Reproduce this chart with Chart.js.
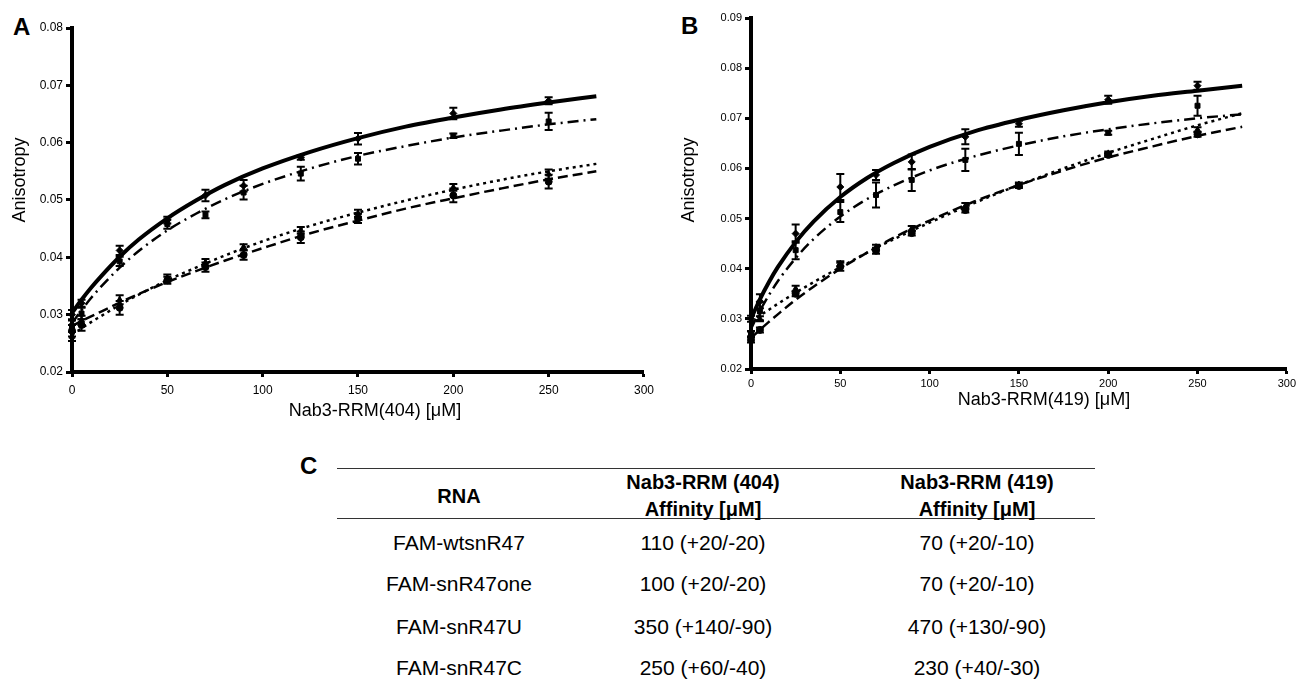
<!DOCTYPE html>
<html>
<head>
<meta charset="utf-8">
<script src="https://cdn.jsdelivr.net/npm/chart.js@4.4.0/dist/chart.umd.min.js"></script>
<style>
  body { margin: 0; background: #fff; width: 1299px; height: 680px; overflow: hidden; position: relative;
         font-family: "Liberation Sans", Arial, sans-serif; color: #000; }
  .panel { position: absolute; font-weight: bold; font-size: 24px; line-height: 24px; }
  .wrap { position: absolute; top: 0; }
  .axt { position: absolute; width: 300px; margin-left: -150px; text-align: center; font-size: 18px; line-height: 20px; white-space: nowrap; }
  .axt.rot { transform: rotate(-90deg); }
  .rule { position: absolute; left: 337px; width: 758px; height: 0; border-top: 1.5px solid #333; }
  .cell { position: absolute; width: 320px; margin-left: -160px; text-align: center; font-size: 21px; line-height: 26px; white-space: nowrap; }
  .head { font-weight: bold; font-size: 20px; line-height: 27px; }
</style>
</head>
<body>
<div class="panel" style="left:13px;top:15px;">A</div>
<div class="panel" style="left:681px;top:14px;">B</div>
<div class="panel" style="left:300px;top:454px;">C</div>
<div class="wrap" style="left:0;"><canvas id="chartA" width="660" height="430"></canvas></div>
<div class="wrap" style="left:660px;"><canvas id="chartB" width="639" height="430"></canvas></div>
<div class="axt" style="left:375px;top:400px;">Nab3-RRM(404) [&mu;M]</div>
<div class="axt" style="left:1044px;top:389px;">Nab3-RRM(419) [&mu;M]</div>
<div class="axt rot" style="left:19px;top:170px;">Anisotropy</div>
<div class="axt rot" style="left:688px;top:170px;">Anisotropy</div>
<div class="rule" style="top:468px;"></div>
<div class="rule" style="top:518px;"></div>
<div id="table"></div>
<script>
// concentrations (uM) of the measured points and x positions where the fitted curves were read
const conc = [0, 5, 25, 50, 70, 90, 120, 150, 200, 250];
const curveX = [0, 5, 10, 15, 25, 35, 50, 65, 80, 100, 125, 150, 175, 200, 225, 250, 275];

// panel A - Nab3-RRM(404)
const aWt = [0.0300, 0.0320, 0.0412, 0.0465, 0.0508, 0.0525, 0.0574, 0.0607, 0.0651, 0.0673];
const aOne = [0.0280, 0.0302, 0.0393, 0.0458, 0.0474, 0.0513, 0.0546, 0.0572, 0.0612, 0.0637];
const aC = [0.0262, 0.0290, 0.0326, 0.0364, 0.0391, 0.0418, 0.0447, 0.0477, 0.0522, 0.0545];
const aU = [0.0272, 0.0282, 0.0312, 0.0360, 0.0383, 0.0404, 0.0435, 0.0468, 0.0508, 0.0532];
const aWtErr = [0.0008, 0.0006, 0.0008, 0.0006, 0.0010, 0.0010, 0.0004, 0.0010, 0.0010, 0.0006];
const aOneErr = [0.0010, 0.0010, 0.0008, 0.0008, 0.0006, 0.0012, 0.0012, 0.0010, 0.0004, 0.0015];
const aCErr = [0.0008, 0.0008, 0.0008, 0.0006, 0.0006, 0.0005, 0.0006, 0.0006, 0.0006, 0.0008];
const aUErr = [0.0010, 0.0010, 0.0012, 0.0006, 0.0008, 0.0008, 0.0010, 0.0008, 0.0012, 0.0012];
const aWtFit = [0.0303, 0.0326, 0.0347, 0.0366, 0.0401, 0.0431, 0.0468, 0.0499, 0.0526, 0.0555, 0.0584, 0.0608, 0.0628, 0.0644, 0.0658, 0.0670, 0.0681];
const aOneFit = [0.0285, 0.0308, 0.0329, 0.0348, 0.0382, 0.0411, 0.0447, 0.0476, 0.0501, 0.0528, 0.0555, 0.0577, 0.0594, 0.0609, 0.0621, 0.0632, 0.0641];
const aCFit = [0.0265, 0.0276, 0.0287, 0.0297, 0.0317, 0.0335, 0.0360, 0.0382, 0.0403, 0.0428, 0.0455, 0.0478, 0.0499, 0.0518, 0.0535, 0.0550, 0.0563];
const aUFit = [0.0280, 0.0289, 0.0297, 0.0305, 0.0321, 0.0336, 0.0357, 0.0376, 0.0394, 0.0416, 0.0442, 0.0464, 0.0485, 0.0503, 0.0520, 0.0536, 0.0550];

// panel B - Nab3-RRM(419)
const bWt = [0.0300, 0.0335, 0.0470, 0.0563, 0.0587, 0.0613, 0.0663, 0.0689, 0.0737, 0.0765];
const bOne = [0.0270, 0.0315, 0.0437, 0.0513, 0.0547, 0.0577, 0.0617, 0.0649, 0.0671, 0.0725];
const bC = [0.0270, 0.0300, 0.0360, 0.0410, 0.0443, 0.0480, 0.0525, 0.0568, 0.0630, 0.0677];
const bU = [0.0258, 0.0278, 0.0350, 0.0404, 0.0436, 0.0471, 0.0517, 0.0565, 0.0627, 0.0668];
const bWtErr = [0.0006, 0.0014, 0.0018, 0.0026, 0.0010, 0.0015, 0.0015, 0.0006, 0.0008, 0.0008];
const bOneErr = [0.0006, 0.0018, 0.0018, 0.0020, 0.0025, 0.0022, 0.0022, 0.0022, 0.0004, 0.0020];
const bCErr = [0.0005, 0.0005, 0.0006, 0.0005, 0.0005, 0.0005, 0.0006, 0.0004, 0.0004, 0.0005];
const bUErr = [0.0005, 0.0005, 0.0005, 0.0008, 0.0006, 0.0005, 0.0005, 0.0004, 0.0004, 0.0005];
const bWtFit = [0.0300, 0.0339, 0.0373, 0.0403, 0.0453, 0.0494, 0.0543, 0.0581, 0.0611, 0.0643, 0.0674, 0.0697, 0.0716, 0.0732, 0.0745, 0.0755, 0.0765];
const bOneFit = [0.0280, 0.0316, 0.0347, 0.0375, 0.0421, 0.0459, 0.0504, 0.0539, 0.0566, 0.0596, 0.0624, 0.0646, 0.0664, 0.0678, 0.0690, 0.0700, 0.0708];
const bCFit = [0.0295, 0.0307, 0.0318, 0.0330, 0.0352, 0.0373, 0.0403, 0.0432, 0.0459, 0.0492, 0.0531, 0.0567, 0.0600, 0.0631, 0.0659, 0.0686, 0.0710];
const bUFit = [0.0262, 0.0278, 0.0294, 0.0309, 0.0338, 0.0364, 0.0400, 0.0432, 0.0462, 0.0496, 0.0534, 0.0567, 0.0596, 0.0622, 0.0644, 0.0665, 0.0683];

// panel C table
const tableHead = ['RNA', 'Nab3-RRM (404)\nAffinity [\u03bcM]', 'Nab3-RRM (419)\nAffinity [\u03bcM]'];
const rnaNames = ['FAM-wtsnR47', 'FAM-snR47one', 'FAM-snR47U', 'FAM-snR47C'];
const affinity404 = ['110 (+20/-20)', '100 (+20/-20)', '350 (+140/-90)', '250 (+60/-40)'];
const affinity419 = ['70 (+20/-10)', '70 (+20/-10)', '470 (+130/-90)', '230 (+40/-30)'];

// one style per RNA: line dash, width, marker
const styles = [
  { dash: [], width: 4, marker: 'rectRot' },
  { dash: [11, 5, 2, 5], width: 2.5, marker: 'rect' },
  { dash: [3, 4], width: 2.5, marker: 'triangle' },
  { dash: [10, 5], width: 2.5, marker: 'circle' }
];

const errorBars = {
  id: 'errorBars',
  afterDatasetsDraw(chart) {
    const ctx = chart.ctx;
    const xs = chart.scales.x, ys = chart.scales.y;
    ctx.save();
    ctx.strokeStyle = '#000';
    ctx.lineWidth = 2;
    chart.data.datasets.forEach(ds => {
      if (!ds.errors) return;
      ds.data.forEach((p, i) => {
        const e = ds.errors[i];
        const px = xs.getPixelForValue(p.x);
        const top = ys.getPixelForValue(p.y + e);
        const bot = ys.getPixelForValue(p.y - e);
        ctx.beginPath();
        ctx.moveTo(px, top); ctx.lineTo(px, bot);
        ctx.moveTo(px - 4, top); ctx.lineTo(px + 4, top);
        ctx.moveTo(px - 4, bot); ctx.lineTo(px + 4, bot);
        ctx.stroke();
      });
    });
    ctx.restore();
  }
};

function makeChart(id, points, errors, fits, yMax, opt) {
  const datasets = [];
  fits.forEach((fit, k) => {
    datasets.push({
      data: curveX.map((x, i) => ({ x: x, y: fit[i] })),
      borderColor: '#000',
      borderWidth: styles[k].width,
      borderDash: styles[k].dash,
      pointRadius: 0,
      cubicInterpolationMode: 'monotone',
      fill: false
    });
  });
  points.forEach((vals, k) => {
    datasets.push({
      data: conc.map((x, i) => ({ x: x, y: vals[i] })),
      errors: errors[k],
      showLine: false,
      pointStyle: styles[k].marker,
      pointRadius: 3.5,
      pointBackgroundColor: '#000',
      pointBorderColor: '#000',
      pointBorderWidth: 1
    });
  });
  const tickFont = { family: '"Liberation Sans", Arial, sans-serif', size: opt.tickSize };
  return new Chart(document.getElementById(id), {
    type: 'line',
    data: { datasets: datasets },
    options: {
      responsive: false,
      animation: false,
      clip: false,
      layout: { padding: opt.padding },
      plugins: { legend: { display: false }, tooltip: { enabled: false } },
      scales: {
        x: {
          type: 'linear', min: 0, max: 300,
          afterFit: s => { s.height = opt.xHeight; },
          ticks: { stepSize: 50, color: '#000', font: tickFont, padding: opt.xTickPad, maxRotation: 0 },
          grid: { drawOnChartArea: false, tickLength: 5, tickWidth: 3, tickColor: '#000' },
          border: { color: '#000', width: 4 }
        },
        y: {
          min: 0.02, max: yMax,
          afterFit: s => { s.width = opt.yWidth; },
          ticks: { stepSize: 0.01, color: '#000', font: tickFont, padding: 3, callback: v => v.toFixed(2) },
          grid: { drawOnChartArea: false, tickLength: 6, tickWidth: 3, tickColor: '#000' },
          border: { color: '#000', width: 4 }
        }
      }
    },
    plugins: [errorBars]
  });
}

makeChart('chartA', [aWt, aOne, aC, aU], [aWtErr, aOneErr, aCErr, aUErr], [aWtFit, aOneFit, aCFit, aUFit], 0.08,
  { padding: { left: 0, top: 28, right: 15, bottom: 8 }, xHeight: 50, yWidth: 72, tickSize: 12, xTickPad: 6 });
makeChart('chartB', [bWt, bOne, bC, bU], [bWtErr, bOneErr, bCErr, bUErr], [bWtFit, bOneFit, bCFit, bUFit], 0.09,
  { padding: { left: 0, top: 18, right: 8, bottom: 15 }, xHeight: 46, yWidth: 91, tickSize: 11, xTickPad: 3 });

// table C
const colX = [459, 703, 977];
const rowY = [543, 584, 627, 668];
const table = document.getElementById('table');
function addCell(text, x, yc, cls, lines, lh) {
  const d = document.createElement('div');
  d.className = cls;
  d.style.left = x + 'px';
  d.style.top = (yc - lines * lh / 2) + 'px';
  d.innerHTML = text.replace('\n', '<br>');
  table.appendChild(d);
}
tableHead.forEach((t, i) => addCell(t, colX[i], 496, 'cell head', t.split('\n').length, 27));
rnaNames.forEach((n, r) => {
  addCell(n, colX[0], rowY[r], 'cell', 1, 26);
  addCell(affinity404[r], colX[1], rowY[r], 'cell', 1, 26);
  addCell(affinity419[r], colX[2], rowY[r], 'cell', 1, 26);
});
</script>
</body>
</html>
